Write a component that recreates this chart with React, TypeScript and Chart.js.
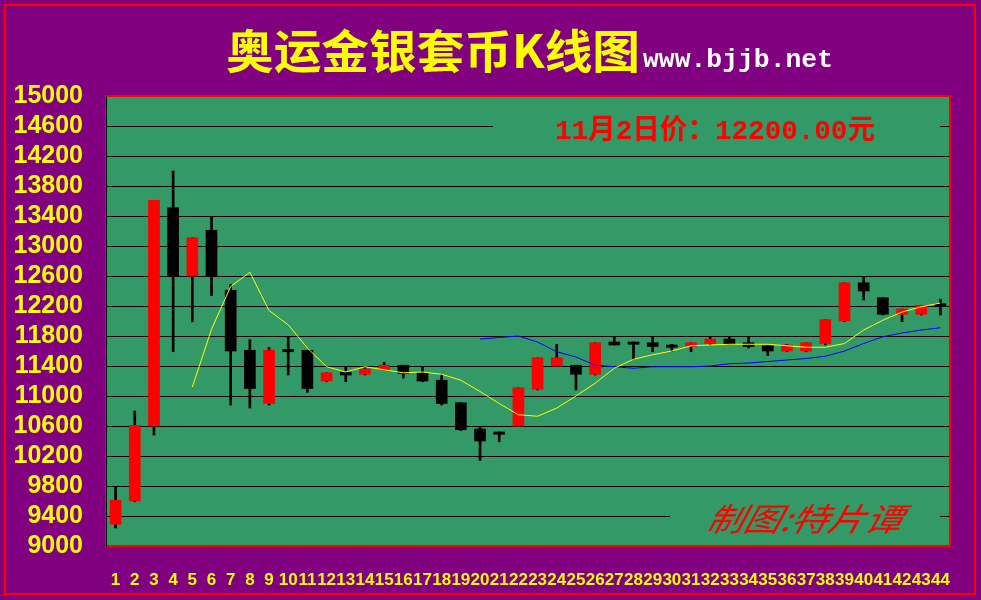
import React, { useEffect, useRef } from 'react';
import { Chart, registerables } from 'chart.js';

Chart.register(...registerables);

// ---------- data ----------
const days = ['1','2','3','4','5','6','7','8','9','10','11','12','13','14','15','16','17','18','19','20','21','22','23','24','25','26','27','28','29','30','31','32','33','34','35','36','37','38','39','40','41','42','43','44'];

const openP = [9290, 9600, 10600, 13510, 12600, 13210, 12410, 11610, 10900, 11620, 11610, 11200, 11320, 11290, 11350, 11410, 11310, 11210, 10910, 10560, 10520, 10600, 11090, 11400, 11410, 11290, 11720, 11720, 11710, 11680, 11660, 11700, 11760, 11710, 11670, 11600, 11600, 11700, 12000, 12510, 12310, 12090, 12090, 12230];
const highP = [9790, 10800, 13610, 14000, 13110, 13390, 12490, 11750, 11650, 11790, 11610, 11310, 11390, 11390, 11450, 11410, 11390, 11290, 10910, 10590, 10520, 11110, 11510, 11690, 11410, 11710, 11790, 11720, 11790, 11690, 11710, 11790, 11790, 11790, 11670, 11690, 11710, 12020, 12510, 12590, 12310, 12160, 12210, 12290];
const lowP = [9240, 9590, 10480, 11590, 11990, 12340, 10880, 10840, 10880, 11280, 11050, 11190, 11190, 11280, 11350, 11240, 11190, 10880, 10540, 10140, 10390, 10600, 11080, 11400, 11080, 11280, 11680, 11490, 11590, 11590, 11590, 11680, 11690, 11640, 11540, 11590, 11590, 11680, 11990, 12280, 12080, 11990, 12080, 12080];
const closeP = [9610, 10610, 13610, 12600, 13110, 12600, 11600, 11100, 11610, 11590, 11100, 11310, 11280, 11360, 11410, 11300, 11200, 10900, 10550, 10400, 10490, 11110, 11510, 11510, 11290, 11710, 11680, 11690, 11660, 11650, 11710, 11760, 11690, 11660, 11600, 11680, 11710, 12020, 12510, 12400, 12090, 12160, 12210, 12200];

const ma5 = [null, null, null, null, 11120, 11890, 12460, 12650, 12140, 11950, 11640, 11390, 11320, 11390, 11350, 11310, 11320, 11290, 11210, 11060, 10900, 10750, 10730, 10840, 11000, 11170, 11370, 11490, 11550, 11600, 11670, 11680, 11690, 11690, 11690, 11670, 11650, 11650, 11700, 11880, 12010, 12120, 12190, 12240];
const ma20 = [null, null, null, null, null, null, null, null, null, null, null, null, null, null, null, null, null, null, null, 11760, 11780, 11800, 11720, 11590, 11520, 11410, 11390, 11370, 11390, 11390, 11390, 11400, 11430, 11440, 11460, 11480, 11500, 11530, 11600, 11700, 11790, 11840, 11880, 11910];

const yTicks = [9000, 9400, 9800, 10200, 10600, 11000, 11400, 11800, 12200, 12600, 13000, 13400, 13800, 14200, 14600, 15000];

const titleText = '奥运金银套币K线图';
const siteText = 'www.bjjb.net';
const priceText = '11月2日价：12200.00元';
const signText = '制图:特片谭';

// ---------- colours ----------
const PURPLE = '#800080';
const GREEN = '#339966';
const RED = '#ff0000';
const YELLOW = '#ffff00';

function fitText(ctx: CanvasRenderingContext2D, text: string, x: number, y: number, w: number) {
  const m = ctx.measureText(text).width;
  ctx.save();
  ctx.translate(x, y);
  ctx.scale(w / m, 1);
  ctx.fillText(text, 0, 0);
  ctx.restore();
}

const decor = {
  id: 'decor',
  beforeDraw(chart: any) {
    const ctx = chart.ctx as CanvasRenderingContext2D;
    const { left, top, right, bottom } = chart.chartArea;
    ctx.save();
    ctx.fillStyle = PURPLE;
    ctx.fillRect(0, 0, chart.width, chart.height);
    ctx.strokeStyle = RED;
    ctx.lineWidth = 2;
    ctx.strokeRect(5, 5, chart.width - 11, chart.height - 11);
    ctx.fillStyle = GREEN;
    ctx.fillRect(left, top, right - left, bottom - top);
    ctx.restore();
  },
  beforeDatasetsDraw(chart: any) {
    const ctx = chart.ctx as CanvasRenderingContext2D;
    ctx.save();
    // text boxes covering grid lines
    ctx.fillStyle = GREEN;
    ctx.fillRect(493, 108, 447, 38);
    ctx.fillRect(670, 498, 270, 40);
    // price text
    ctx.fillStyle = RED;
    ctx.textBaseline = 'alphabetic';
    ctx.font = 'bold 28px "Liberation Mono", "Noto Sans CJK SC"';
    fitText(ctx, priceText, 555, 139, 320);
    // signature
    ctx.font = 'italic 32px "Noto Sans CJK SC"';
    ctx.save();
    ctx.translate(705, 531);
    ctx.transform(1, 0, -0.25, 1, 0, 0);
    const m = ctx.measureText(signText).width;
    ctx.scale(195 / m, 1);
    ctx.fillText(signText, 0, 0);
    ctx.restore();
    ctx.restore();
  },
  afterDraw(chart: any) {
    const ctx = chart.ctx as CanvasRenderingContext2D;
    const { left, top, right, bottom } = chart.chartArea;
    ctx.save();
    ctx.strokeStyle = RED;
    ctx.lineWidth = 2;
    ctx.strokeRect(left, top, right - left, bottom - top);
    ctx.strokeStyle = '#000000';
    ctx.lineWidth = 1;
    ctx.beginPath();
    ctx.moveTo(left + 0.5, top);
    ctx.lineTo(left + 0.5, bottom + 1);
    ctx.stroke();
    // title
    ctx.fillStyle = YELLOW;
    ctx.textBaseline = 'alphabetic';
    ctx.font = 'bold 46px "Noto Sans CJK SC"';
    fitText(ctx, titleText, 226, 68, 414);
    ctx.fillStyle = '#ffffff';
    ctx.font = 'bold 26px "Liberation Mono"';
    fitText(ctx, siteText, 643, 67, 190);
    ctx.restore();
  },
};

export default function App() {
  const ref = useRef<HTMLCanvasElement | null>(null);
  useEffect(() => {
    document.body.style.margin = '0';
    const canvas = ref.current;
    if (!canvas) return;
    const bodyColors = openP.map((o, i) => (closeP[i] >= o ? RED : '#000000'));
    const chart = new Chart(canvas, {
      type: 'bar',
      data: {
        labels: days,
        datasets: [
          {
            type: 'line',
            data: ma5 as any,
            borderColor: YELLOW,
            borderWidth: 1,
            pointRadius: 0,
            tension: 0,
            order: -2,
          } as any,
          {
            type: 'line',
            data: ma20 as any,
            borderColor: '#0000ff',
            borderWidth: 1,
            pointRadius: 0,
            tension: 0,
            order: -1,
          } as any,
          {
            type: 'bar',
            data: openP.map((o, i) => [o, closeP[i]]) as any,
            backgroundColor: bodyColors,
            borderWidth: 0,
            barThickness: 11,
            grouped: false,
            order: 0,
          } as any,
          {
            type: 'bar',
            data: lowP.map((l, i) => [l, highP[i]]) as any,
            backgroundColor: '#000000',
            borderWidth: 0,
            barThickness: 2,
            grouped: false,
            order: 1,
          } as any,
        ],
      },
      options: {
        responsive: false,
        animation: false,
        devicePixelRatio: 1,
        layout: { padding: { left: 0, top: 96, right: 31, bottom: 0 } },
        plugins: { legend: { display: false }, tooltip: { enabled: false } },
        scales: {
          x: {
            type: 'category',
            offset: true,
            grid: { display: false, drawTicks: false },
            border: { display: false },
            ticks: {
              color: YELLOW,
              autoSkip: false,
              maxRotation: 0,
              minRotation: 0,
              padding: 24,
              font: { family: '"Liberation Sans", Arial', size: 17, weight: 'bold' },
            },
            afterFit(scale: any) {
              scale.height = 54;
            },
          },
          y: {
            type: 'linear',
            min: 9000,
            max: 15000,
            grid: { color: '#000000', lineWidth: 1, drawTicks: false },
            border: { display: false },
            ticks: {
              color: YELLOW,
              padding: 23,
              autoSkip: false,
              callback: (v: any) => String(v),
              font: { family: '"Liberation Sans", Arial', size: 25, weight: 'bold' },
            },
            afterBuildTicks(scale: any) {
              scale.ticks = yTicks.map((v) => ({ value: v }));
            },
            afterFit(scale: any) {
              scale.width = 106;
            },
          },
        },
      } as any,
      plugins: [decor],
    });
    return () => chart.destroy();
  }, []);
  return (
    <div style={{ position: 'absolute', left: 0, top: 0, width: 981, height: 600, background: PURPLE }}>
      <canvas ref={ref} width={981} height={600} style={{ width: 981, height: 600, display: 'block' }} />
    </div>
  );
}
